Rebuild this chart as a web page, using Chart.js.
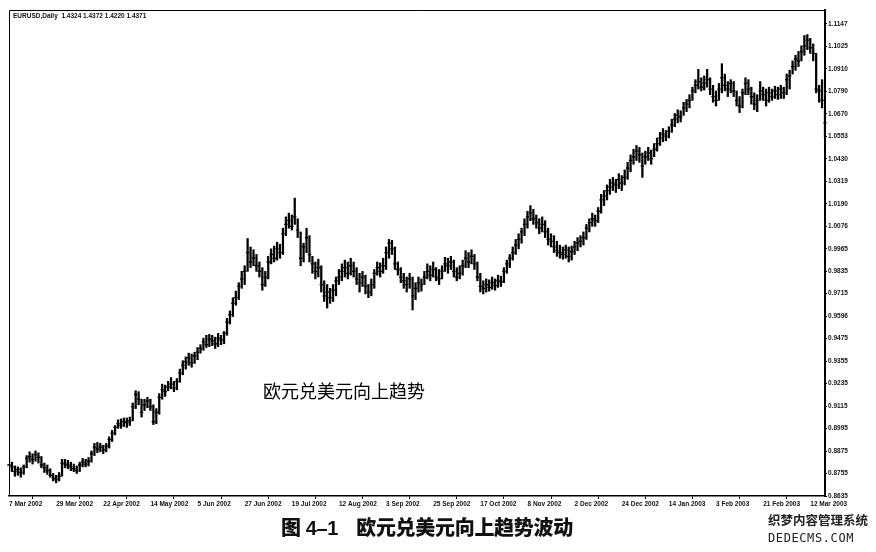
<!DOCTYPE html>
<html>
<head>
<meta charset="utf-8">
<script src="https://cdn.jsdelivr.net/npm/chart.js@4.4.1/dist/chart.umd.min.js"></script>
<style>
  html, body { margin:0; padding:0; background:#fff; }
  #wrap { position:relative; width:876px; height:552px; overflow:hidden; }
  #c { position:absolute; left:0; top:0; }
  .cap { position:absolute; top:512px; left:281px; font-family:"Noto Sans CJK SC","Noto Sans",sans-serif; font-weight:900; font-size:20px; color:#111; white-space:nowrap; letter-spacing:-0.3px; }
  .cap .num { font-family:"Liberation Sans","DejaVu Sans",sans-serif; font-weight:bold; margin-left:5px; margin-right:18px; }
  .wm { position:absolute; left:768px; top:512px; font-family:"Noto Sans CJK SC",sans-serif; font-weight:bold; font-size:12.5px; color:#222; white-space:nowrap; line-height:16px; }
  .wm2 { position:absolute; left:768px; top:531px; font-family:"DejaVu Sans Mono",monospace; font-size:12px; color:#222; letter-spacing:0.6px; white-space:nowrap; }
</style>
</head>
<body>
<div id="wrap">
  <canvas id="c" width="876" height="552"></canvas>
  <div class="cap">图<span class="num">4–1</span>欧元兑美元向上趋势波动</div>
  <div class="wm">织梦内容管理系统</div>
  <div class="wm2">DEDECMS.COM</div>
</div>
<script>
// ---- data (EURUSD daily) ----
const dateLabels = ['7 Mar 2002','29 Mar 2002','22 Apr 2002','14 May 2002','5 Jun 2002','27 Jun 2002','19 Jul 2002','12 Aug 2002','3 Sep 2002','25 Sep 2002','17 Oct 2002','8 Nov 2002','2 Dec 2002','24 Dec 2002','14 Jan 2003','3 Feb 2003','21 Feb 2003','12 Mar 2003'];
const priceLabels = ['0.8635','0.8755','0.8875','0.8995','0.9115','0.9235','0.9355','0.9475','0.9596','0.9715','0.9835','0.9965','1.0076','1.0190','1.0319','1.0430','1.0553','1.0670','1.0790','1.0910','1.1025','1.1147'];
const headerText = 'EURUSD,Daily  1.4324 1.4372 1.4220 1.4371';
const annotationText = '欧元兑美元向上趋势';

const closes = [
.8800,.8790,.8765,.8775,.8760,.8790,.8835,.8845,.8830,.8855,.8840,.8800,.8785,.8770,.8745,.8730,.8725,.8740,
.8810,.8805,.8800,.8790,.8780,.8770,.8800,.8815,.8805,.8820,.8860,.8895,.8885,.8895,.8880,.8900,.8935,.8970,.9000,.9020,.9010,.9030,.9025,.9035,
.9110,.9175,.9150,.9080,.9120,.9140,.9110,.9030,.9080,.9160,.9200,.9190,.9215,.9230,.9210,.9245,.9290,.9330,.9350,.9370,.9345,.9380,.9400,
.9420,.9455,.9440,.9470,.9460,.9445,.9475,.9465,.9500,.9560,.9600,.9660,.9690,.9750,.9790,.9830,.9930,.9880,
.9900,.9860,.9830,.9760,.9800,.9880,.9920,.9900,.9950,.9930,1.0030,1.0080,1.0100,1.0070,1.0120,1.0050,.9900,.9960,1.0010,.9920,.9870,.9830,
.9850,.9760,.9700,.9720,.9690,.9730,.9780,.9800,.9830,.9850,.9820,.9860,.9830,.9790,.9770,.9800,.9750,.9720,.9760,.9820,.9850,.9830,.9860,.9930,.9980,.9950,.9870,
.9840,.9800,.9780,.9760,.9790,.9700,.9740,.9770,.9760,.9800,.9830,.9810,.9840,.9800,.9790,.9830,.9870,.9860,.9880,.9830,.9800,.9820,.9860,.9900,.9880,.9910,.9870,.9800,.9750,
.9740,.9760,.9745,.9770,.9755,.9780,.9775,.9830,.9870,.9900,.9930,.9970,1.0000,1.0040,1.0080,1.0120,1.0140,1.0110,1.0090,1.0060,1.0080,1.0040,1.0000,.9990,.9960,.9940,.9930,.9920,.9945,.9910,.9935,.9960,.9980,.9990,1.0010,
1.0060,1.0090,1.0110,1.0100,1.0150,1.0210,1.0230,1.0260,1.0280,1.0300,1.0290,1.0320,1.0300,1.0330,1.0380,1.0420,1.0440,1.0470,1.0450,1.0390,
1.0440,1.0460,1.0430,1.0480,1.0510,1.0540,1.0560,1.0550,1.0575,1.0610,1.0640,1.0660,1.0650,1.0700,1.0720,1.0740,1.0790,1.0820,1.0840,1.0810,1.0830,1.0850,1.0800,1.0760,1.0740,
1.0800,1.0860,1.0820,1.0800,1.0830,1.0790,1.0740,1.0710,1.0780,1.0830,1.0800,1.0760,1.0720,1.0740,1.0790,1.0770,1.0740,1.0780,1.0760,1.0790,1.0770,1.0800,1.0780,1.0850,1.0870,1.0920,1.0960,1.0950,1.1000,1.1030,1.1060,1.1020,1.0990,1.0800,1.0790,1.0740,1.0620
];
const highs = [
.8830,.8815,.8795,.8790,.8785,.8800,.8850,.8870,.8860,.8875,.8865,.8845,.8810,.8800,.8780,.8755,.8745,.8760,
.8830,.8830,.8825,.8815,.8805,.8795,.8815,.8835,.8830,.8840,.8875,.8915,.8920,.8915,.8905,.8915,.8950,.8985,.9010,.9040,.9045,.9050,.9050,.9055,
.9130,.9195,.9190,.9150,.9150,.9160,.9150,.9120,.9100,.9180,.9230,.9225,.9245,.9265,.9245,.9260,.9310,.9355,.9375,.9395,.9390,.9400,.9425,
.9440,.9475,.9490,.9495,.9490,.9480,.9500,.9490,.9510,.9580,.9620,.9690,.9725,.9770,.9830,.9860,1.0005,.9960,
.9945,.9920,.9880,.9850,.9830,.9910,.9950,.9965,.9985,.9975,1.0060,1.0120,1.0140,1.0130,1.0220,1.0110,1.0040,.9980,1.0060,1.0020,.9910,.9880,
.9895,.9860,.9780,.9760,.9740,.9760,.9800,.9840,.9870,.9890,.9880,.9900,.9880,.9850,.9820,.9830,.9810,.9760,.9790,.9840,.9880,.9875,.9900,.9960,1.0000,.9995,.9960,
.9880,.9850,.9820,.9800,.9820,.9800,.9770,.9800,.9790,.9830,.9870,.9860,.9880,.9850,.9840,.9860,.9905,.9900,.9910,.9890,.9850,.9860,.9890,.9940,.9930,.9945,.9920,.9880,.9820,
.9780,.9790,.9785,.9800,.9790,.9810,.9805,.9850,.9890,.9920,.9960,1.0000,1.0030,1.0060,1.0110,1.0150,1.0180,1.0160,1.0130,1.0110,1.0120,1.0100,1.0060,1.0030,1.0020,.9990,.9970,.9960,.9970,.9960,.9965,.9990,1.0010,1.0020,1.0040,
1.0080,1.0110,1.0140,1.0130,1.0170,1.0240,1.0260,1.0290,1.0320,1.0330,1.0320,1.0350,1.0340,1.0370,1.0410,1.0450,1.0480,1.0500,1.0490,1.0460,
1.0470,1.0490,1.0475,1.0510,1.0540,1.0570,1.0590,1.0580,1.0600,1.0640,1.0670,1.0690,1.0685,1.0730,1.0745,1.0770,1.0810,1.0850,1.0905,1.0860,1.0870,1.0905,1.0860,1.0820,1.0790,
1.0830,1.0935,1.0880,1.0840,1.0850,1.0840,1.0790,1.0760,1.0800,1.0860,1.0850,1.0810,1.0780,1.0770,1.0840,1.0810,1.0800,1.0810,1.0800,1.0815,1.0810,1.0820,1.0810,1.0880,1.0900,1.0950,1.0980,1.1000,1.1030,1.1085,1.1090,1.1070,1.1040,1.0990,1.0820,1.0850,1.0690
];
const lows = [
.8760,.8765,.8740,.8745,.8735,.8750,.8785,.8815,.8805,.8820,.8810,.8785,.8760,.8750,.8735,.8715,.8705,.8715,
.8740,.8785,.8780,.8770,.8765,.8755,.8765,.8790,.8790,.8795,.8815,.8850,.8865,.8870,.8860,.8870,.8890,.8925,.8960,.8995,.8995,.9005,.9000,.9010,
.9035,.9100,.9120,.9055,.9090,.9105,.9090,.9015,.9020,.9070,.9150,.9165,.9195,.9205,.9190,.9200,.9240,.9280,.9310,.9330,.9320,.9340,.9360,
.9395,.9410,.9425,.9430,.9435,.9420,.9430,.9440,.9445,.9490,.9550,.9590,.9650,.9680,.9740,.9760,.9830,.9850,
.9860,.9830,.9800,.9730,.9750,.9790,.9870,.9880,.9890,.9900,.9920,1.0020,1.0060,1.0050,1.0080,1.0010,.9860,.9880,.9930,.9880,.9820,.9790,
.9800,.9720,.9670,.9635,.9660,.9670,.9700,.9760,.9780,.9800,.9790,.9810,.9800,.9760,.9720,.9750,.9710,.9690,.9700,.9740,.9810,.9800,.9820,.9840,.9900,.9920,.9840,
.9810,.9770,.9740,.9720,.9740,.9625,.9680,.9720,.9725,.9760,.9790,.9780,.9800,.9780,.9760,.9790,.9830,.9820,.9840,.9800,.9780,.9790,.9810,.9850,.9850,.9870,.9840,.9780,.9720,
.9710,.9720,.9725,.9735,.9730,.9745,.9750,.9770,.9820,.9850,.9890,.9920,.9950,.9980,1.0020,1.0060,1.0100,1.0080,1.0060,1.0030,1.0040,1.0010,.9970,.9960,.9930,.9910,.9900,.9895,.9900,.9880,.9890,.9920,.9940,.9960,.9970,
1.0000,1.0040,1.0070,1.0070,1.0090,1.0140,1.0180,1.0210,1.0240,1.0260,1.0250,1.0270,1.0260,1.0290,1.0320,1.0360,1.0400,1.0420,1.0410,1.0330,
1.0400,1.0420,1.0400,1.0440,1.0470,1.0500,1.0520,1.0525,1.0540,1.0570,1.0600,1.0620,1.0625,1.0660,1.0680,1.0700,1.0740,1.0780,1.0800,1.0790,1.0795,1.0810,1.0770,1.0730,1.0710,
1.0740,1.0780,1.0790,1.0760,1.0780,1.0760,1.0710,1.0675,1.0700,1.0770,1.0770,1.0720,1.0690,1.0680,1.0740,1.0740,1.0710,1.0730,1.0740,1.0750,1.0745,1.0750,1.0750,1.0770,1.0800,1.0880,1.0900,1.0920,1.0950,1.0980,1.1010,1.0990,1.0950,1.0780,1.0730,1.0700,1.0545
];

// ---- scale set-up ----
const yMin = 0.8635, yStep = 0.01196;
const yMax = yMin + yStep * 21.62;
const tickVals = priceLabels.map((_, k) => yMin + k * yStep);
const barIndex = closes.map((_, i) => i);
const BARS_PER_LABEL = 16;

const framePlugin = {
  id: 'frame',
  afterDraw(chart) {
    const {ctx, chartArea: a} = chart;
    ctx.save();
    ctx.strokeStyle = '#000';
    ctx.lineWidth = 1;
    ctx.beginPath();
    ctx.moveTo(a.left + 0.5, a.bottom);
    ctx.lineTo(a.left + 0.5, a.top + 0.5);
    ctx.lineTo(a.right, a.top + 0.5);
    ctx.stroke();
    ctx.lineWidth = 2;
    ctx.beginPath();
    ctx.moveTo(a.right, a.top);
    ctx.lineTo(a.right, a.bottom);
    ctx.stroke();
    ctx.fillStyle = '#111';
    ctx.font = 'bold 6.5px "Liberation Sans", "DejaVu Sans", sans-serif';
    ctx.textBaseline = 'middle';
    ctx.fillText(headerText, a.left + 4, a.top + 6);
    ctx.font = '18px "Noto Sans CJK SC", sans-serif';
    ctx.fillStyle = '#000';
    ctx.fillText(annotationText, 263, 391);
    ctx.restore();
  }
};

new Chart(document.getElementById('c'), {
  type: 'bar',
  data: {
    labels: barIndex,
    datasets: [
      {
        type: 'bar',
        data: lows.map((l, i) => [l, highs[i]]),
        backgroundColor: '#000',
        borderWidth: 0,
        barThickness: 1.6,
        grouped: false,
        order: 2
      },
      {
        type: 'line',
        data: closes,
        showLine: false,
        pointStyle: 'line',
        pointRadius: 1.7,
        pointBorderWidth: 1.3,
        pointBorderColor: '#000',
        pointBackgroundColor: '#000',
        order: 1
      }
    ]
  },
  options: {
    responsive: false,
    animation: false,
    events: [],
    layout: { padding: { left: 9, top: 10, right: 0, bottom: 0 } },
    plugins: { legend: { display: false }, tooltip: { enabled: false }, title: { display: false } },
    scales: {
      x: {
        type: 'category',
        offset: false,
        grid: { display: true, drawOnChartArea: false, drawTicks: true, tickLength: 3, color: '#000', lineWidth: 1 },
        border: { display: true, color: '#000', width: 1.5 },
        ticks: {
          autoSkip: false, maxRotation: 0, minRotation: 0, align: 'start', padding: 1,
          color: '#111',
          font: { family: '"Liberation Sans", "DejaVu Sans", sans-serif', size: 6.5, weight: 'bold' },
          callback: (v) => (v % BARS_PER_LABEL === 0 ? dateLabels[v / BARS_PER_LABEL] : null)
        },
        afterFit: (s) => { s.height = 56; }
      },
      y: {
        position: 'right',
        min: yMin,
        max: yMax,
        afterBuildTicks: (s) => { s.ticks = tickVals.map(v => ({ value: v })); },
        grid: { display: true, drawOnChartArea: false, drawTicks: true, tickLength: 2, color: '#000' },
        border: { display: true, color: '#000', width: 2 },
        ticks: {
          padding: 1,
          color: '#111',
          font: { family: '"Liberation Sans", "DejaVu Sans", sans-serif', size: 6.5, weight: 'bold' },
          callback: (v, i) => priceLabels[i]
        },
        afterFit: (s) => { s.width = 51; }
      }
    }
  },
  plugins: [framePlugin]
});
</script>
</body>
</html>
